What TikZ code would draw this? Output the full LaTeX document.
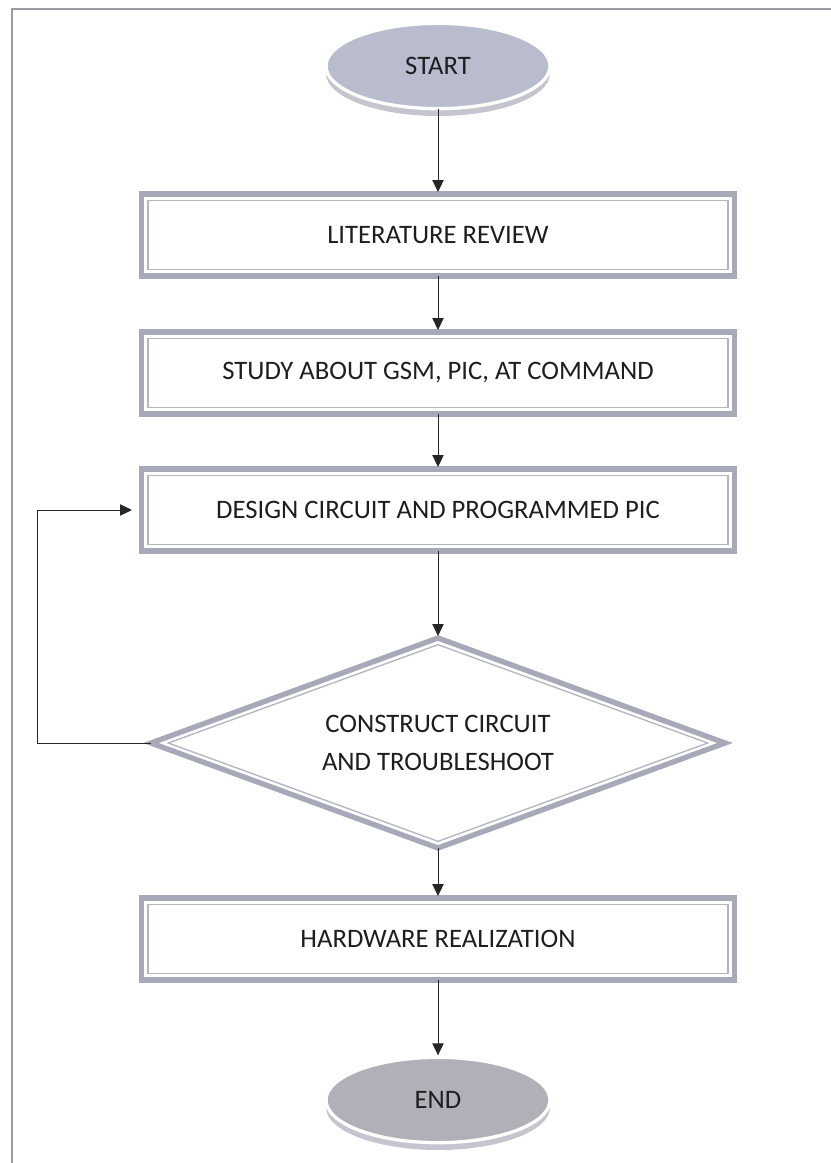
\documentclass[tikz,border=0pt]{standalone}
\usepackage{fontspec}
\setmainfont{Carlito}
\usetikzlibrary{arrows.meta, positioning, shapes.geometric, shadows}
\definecolor{framegray}{HTML}{9C9CA4}
\definecolor{linegray}{HTML}{A7A9B9}
\definecolor{innergray}{HTML}{B3B5C3}
\definecolor{startfill}{HTML}{B9BCCC}
\definecolor{endfill}{HTML}{AFB0B8}
\definecolor{shadegray}{HTML}{C4C5CF}
\definecolor{textblack}{HTML}{1E1E22}
\tikzset{
    flowtext/.style={font=\fontsize{20}{28}\selectfont, text=textblack, align=center, outer sep=0pt},
    terminal/.style={ellipse, flowtext, fill=startfill, draw=white, line width=2.5pt, minimum width=168pt, minimum height=64pt,
        drop shadow={shadow xshift=0pt, shadow yshift=-5.5pt, fill=shadegray, opacity=1}},
    stepbox/.style={rectangle, flowtext, draw=linegray, line width=4pt, minimum width=445pt, minimum height=61.5pt,
        path picture={\draw[innergray, line width=1pt] ([shift={(5pt,-5pt)}]path picture bounding box.north west) rectangle ([shift={(-5pt,5pt)}]path picture bounding box.south east);}},
    decision/.style={diamond, aspect=2.73, flowtext, draw=linegray, line width=4pt, minimum width=430.5pt, minimum height=157.5pt,
        path picture={\draw[innergray, line width=1pt] ([yshift=-5pt]path picture bounding box.north) -- ([xshift=-13pt]path picture bounding box.east) -- ([yshift=5pt]path picture bounding box.south) -- ([xshift=13pt]path picture bounding box.west) -- cycle;}},
    arrow/.style={-{Triangle[length=9pt, width=8.5pt]}, line width=0.7pt, draw=black!85, shorten >=1.5pt}
}
\begin{document}
\begin{tikzpicture}
    \useasboundingbox (0,0) rectangle (623.25pt,-872.25pt);
    \draw[framegray, line width=1.1pt] (9pt,-872.25pt) -- (9pt,-6.75pt) -- (623.25pt,-6.75pt);

    \node[terminal] (start) at (328.5pt,-49.5pt) {START};
    \node[stepbox, below=64pt of start] (review) {LITERATURE REVIEW};
    \node[stepbox, below=42pt of review] (study) {STUDY ABOUT GSM, PIC, AT COMMAND};
    \node[stepbox, below=41.25pt of study] (design) {DESIGN CIRCUIT AND PROGRAMMED PIC};
    \node[decision, below=65.25pt of design] (build) {CONSTRUCT CIRCUIT\\AND TROUBLESHOOT};
    \node[stepbox, below=37.5pt of build] (hardware) {HARDWARE REALIZATION};
    \node[terminal, fill=endfill, below=58pt of hardware] (finish) {END};

    \draw[arrow] (start) -- (review);
    \draw[arrow] (review) -- (study);
    \draw[arrow] (study) -- (design);
    \draw[arrow] (design) -- (build);
    \draw[arrow, shorten >=7pt] (build.west) -- ++(-85.5pt,0) |- (design.west);
    \draw[arrow] (build) -- (hardware);
    \draw[arrow] (hardware) -- (finish);
\end{tikzpicture}
\end{document}
